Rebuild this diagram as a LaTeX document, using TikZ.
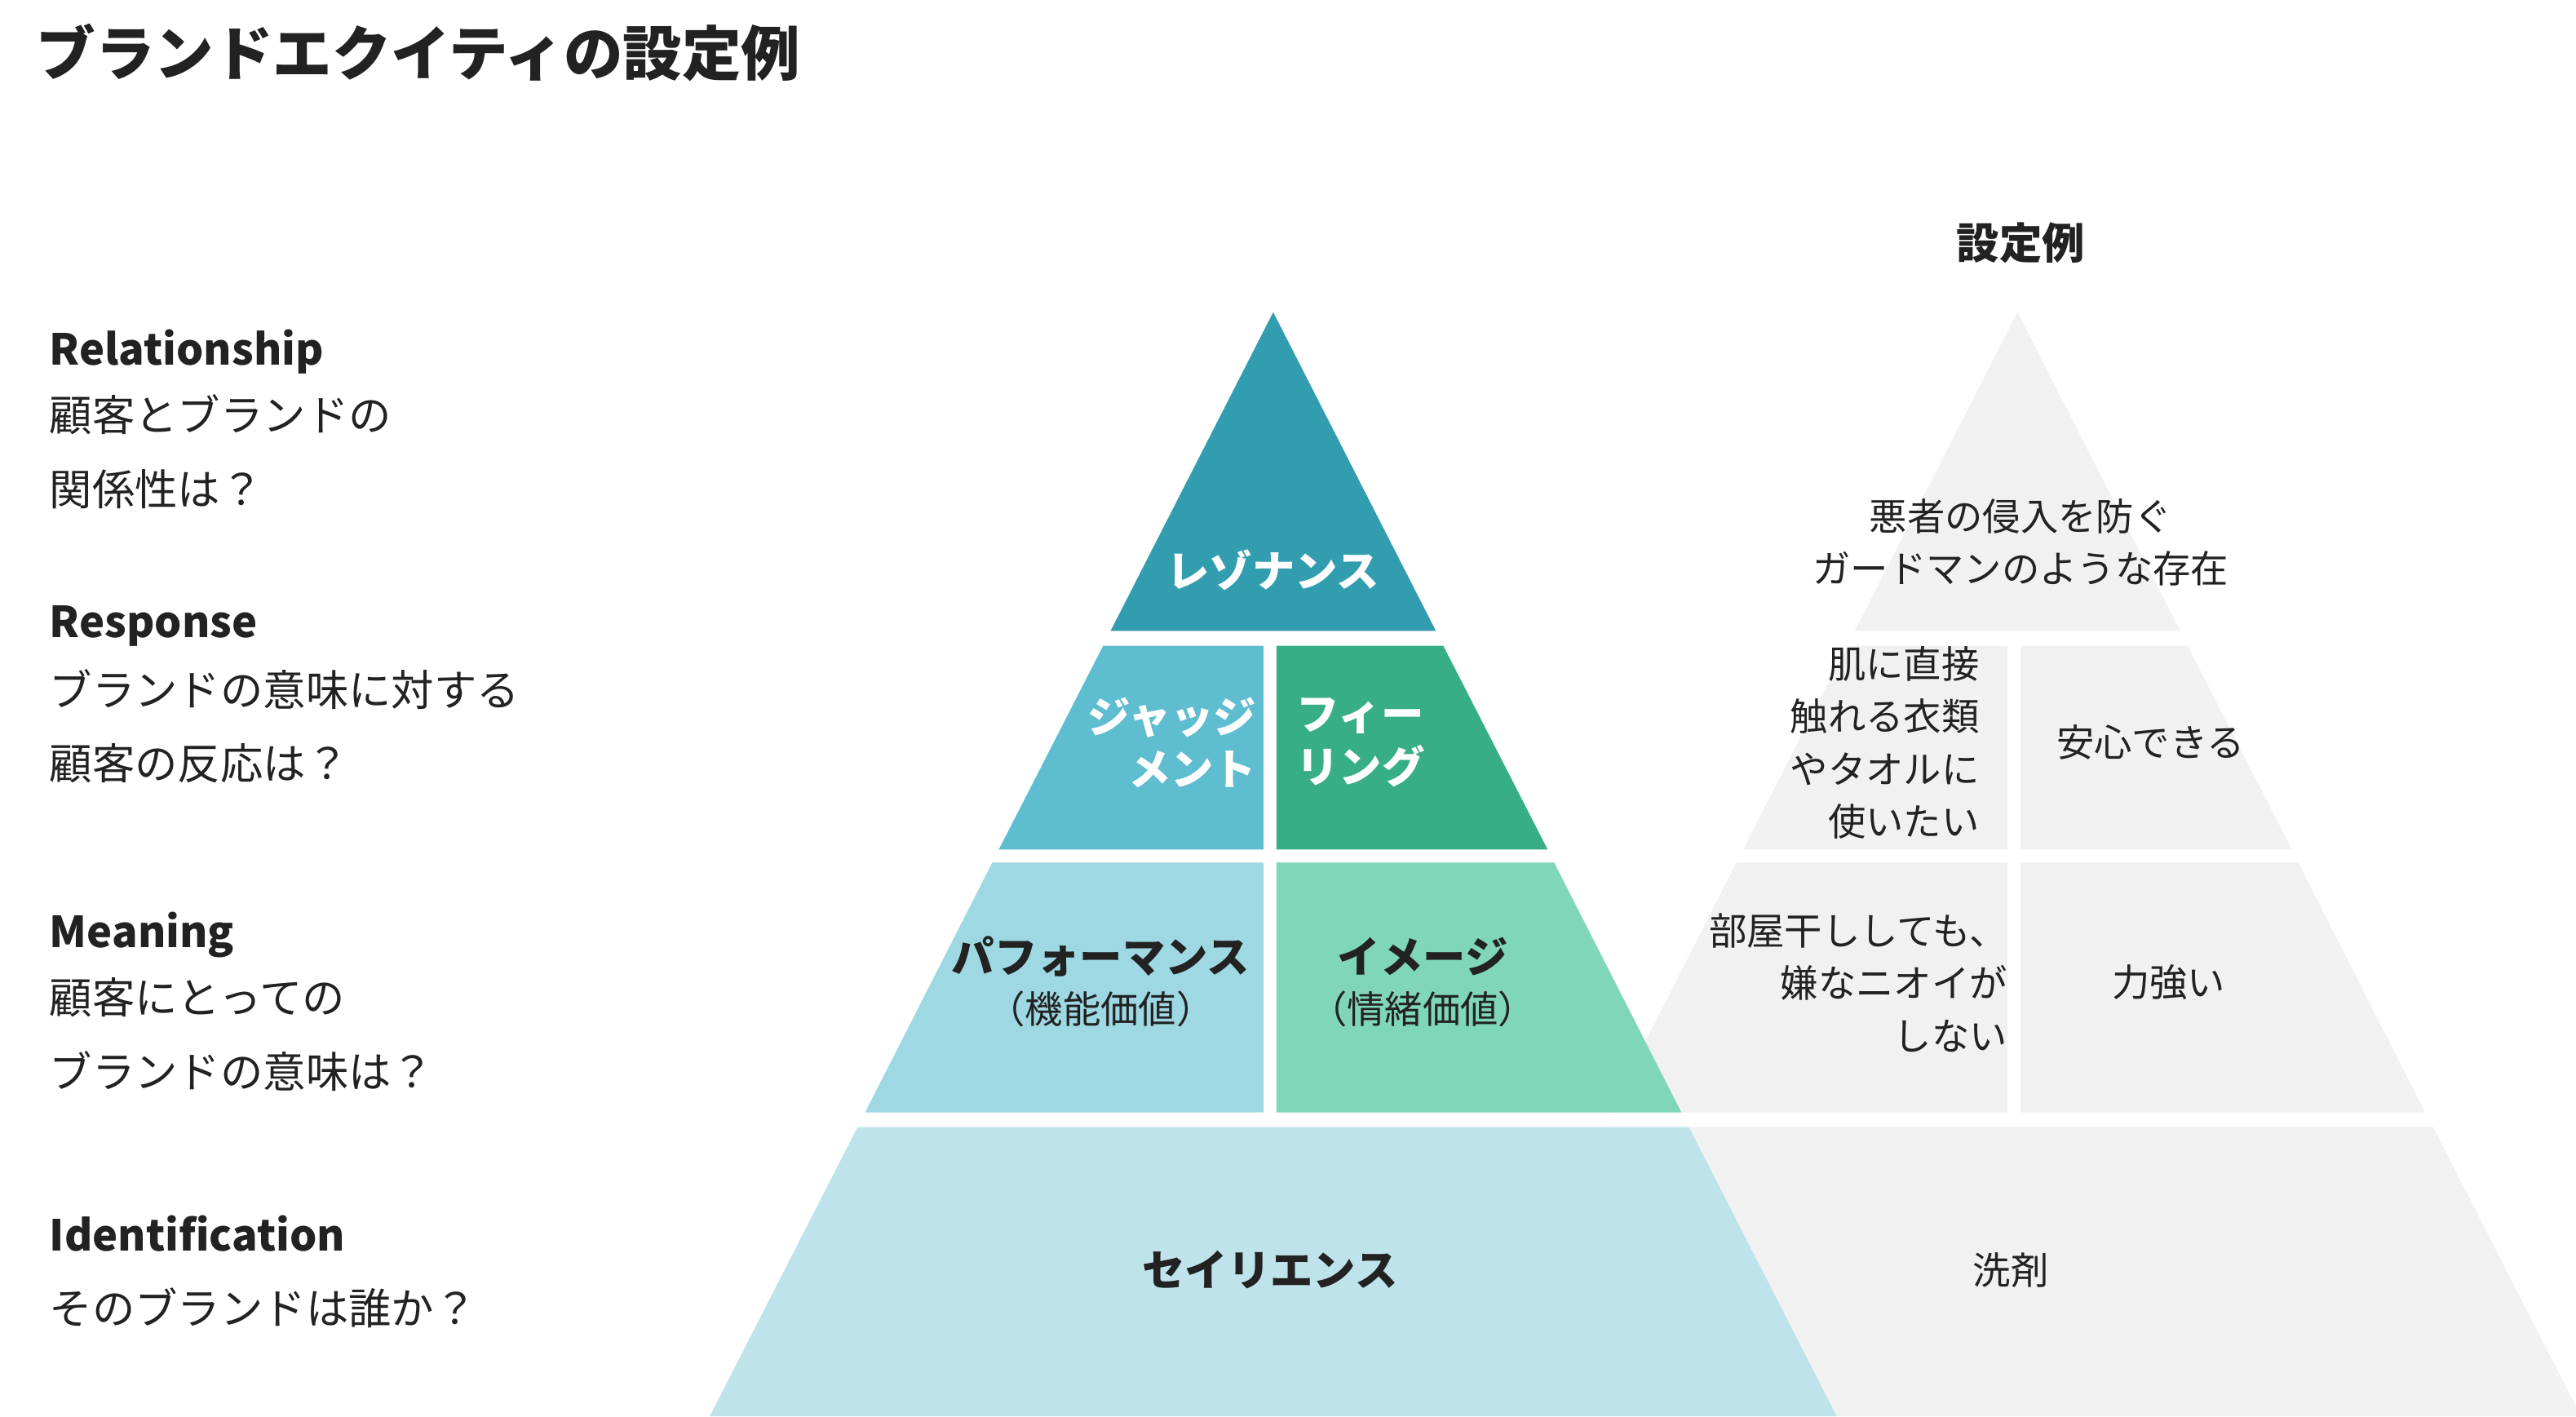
\documentclass[tikz,border=0pt]{standalone}
\usepackage{fontspec}
\setmainfont{Noto Sans CJK JP}
\definecolor{reso}{HTML}{339DB0}
\definecolor{judg}{HTML}{5FBDD0}
\definecolor{feel}{HTML}{38AE87}
\definecolor{perf}{HTML}{9ED8E2}
\definecolor{imag}{HTML}{80D6B8}
\definecolor{sali}{HTML}{BEE3EA}
\definecolor{pale}{HTML}{F1F1F1}
\definecolor{ink}{HTML}{222222}
\tikzset{
  head/.style={font=\fontsize{26}{32}\selectfont\bfseries,text=ink,anchor=west,inner sep=0pt},
  body/.style={font=\fontsize{26}{45}\selectfont,text=ink,anchor=west,inner sep=0pt,align=left},
  tag/.style={font=\fontsize{26}{32}\selectfont\bfseries,inner sep=0pt},
  note/.style={font=\fontsize{23}{32}\selectfont,text=ink,inner sep=0pt},
}
\begin{document}
\begin{tikzpicture}[x=1pt,y=-1pt]
\useasboundingbox (0,0) rectangle (1568,862);
\clip (0,0) rectangle (1568,862);
\fill[white] (0,0) rectangle (1568,862);

% right pyramid (examples)
\fill[pale] (1228,190) -- (1327,384) -- (1129,384) -- cycle;
\fill[pale] (1124.5,393) -- (1222,393) -- (1222,517) -- (1061,517) -- cycle;
\fill[pale] (1230,393) -- (1331.5,393) -- (1395,517) -- (1230,517) -- cycle;
\fill[pale] (1057,525) -- (1222,525) -- (1222,677) -- (979.6,677) -- cycle;
\fill[pale] (1230,525) -- (1399,525) -- (1476,677) -- (1230,677) -- cycle;
\fill[pale] (975,686) -- (1481,686) -- (1571,862) -- (885,862) -- cycle;

% left pyramid
\fill[reso] (775,190) -- (874,384) -- (676,384) -- cycle;
\fill[judg] (671.5,393) -- (769,393) -- (769,517) -- (608,517) -- cycle;
\fill[feel] (777,393) -- (878.5,393) -- (942,517) -- (777,517) -- cycle;
\fill[perf] (604,525) -- (769,525) -- (769,677) -- (526.6,677) -- cycle;
\fill[imag] (777,525) -- (946,525) -- (1023.4,677) -- (777,677) -- cycle;
\fill[sali] (522,686) -- (1028,686) -- (1118,862) -- (432,862) -- cycle;

% title
\node[font=\fontsize{36}{40}\selectfont\bfseries,text=ink,anchor=west,inner sep=0pt] (title) at (22,32) {ブランドエクイティの設定例};

% left labels
\node[head] (relH) at (30,214) {Relationship};
\node[body,anchor=north west] (relB) at (30,240) {顧客とブランドの\\関係性は？};
\node[head] (resH) at (30,381) {Response};
\node[body,anchor=north west] (resB) at (30,407) {ブランドの意味に対する\\顧客の反応は？};
\node[head] (meaH) at (30,569) {Meaning};
\node[body,anchor=north west] (meaB) at (30,595) {顧客にとっての\\ブランドの意味は？};
\node[head] (ideH) at (30,751) {Identification};
\node[body] (ideB) at (30,796) {そのブランドは誰か？};

% pyramid labels
\node[tag,text=white] (reso) at (775,347) {レゾナンス};
\node[tag,text=white,align=right,anchor=east] (judg) at (765,452) {ジャッジ\\メント};
\node[tag,text=white,align=left,anchor=west] (feel) at (789,452) {フィー\\リング};
\node[tag,text=ink] (perf) at (670,582) {パフォーマンス};
\node[note] (perfN) at (670,614) {（機能価値）};
\node[tag,text=ink] (imag) at (866,582) {イメージ};
\node[note] (imagN) at (866,614) {（情緒価値）};
\node[tag,text=ink] (sali) at (773,773) {セイリエンス};

% examples
\node[font=\fontsize{26}{32}\selectfont\bfseries,text=ink,inner sep=0pt] (ex) at (1230,148) {設定例};
\node[note,align=center] (exR) at (1230,330) {悪者の侵入を防ぐ\\ガードマンのような存在};
\node[note,align=right,anchor=east] (exJ) at (1205,452) {肌に直接\\触れる衣類\\やタオルに\\使いたい};
\node[note] (exF) at (1309,452) {安心できる};
\node[note,align=right,anchor=east] (exP) at (1222,598) {部屋干ししても、\\嫌なニオイが\\しない};
\node[note] (exI) at (1320,598) {力強い};
\node[note] (exS) at (1224,773) {洗剤};
\end{tikzpicture}
\end{document}
